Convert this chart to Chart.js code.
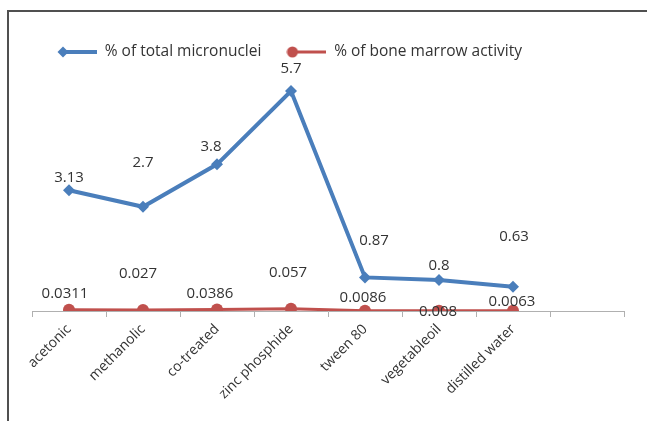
<!DOCTYPE html>
<html>
<head>
<meta charset="utf-8">
<script src="https://cdn.jsdelivr.net/npm/chart.js@4/dist/chart.umd.min.js"></script>
<style>
    html, body { margin: 0; padding: 0; background: #fff; }
    #wrap { position: relative; width: 647px; height: 421px; overflow: hidden; }
    #frame {
        position: absolute; left: 7px; top: 10px; right: -10px; bottom: -10px;
        border-top: 2px solid #505050; border-left: 2px solid #505050;
        pointer-events: none;
    }
</style>
</head>
<body>
<div id="wrap">
    <canvas id="chart" width="647" height="421"></canvas>
    <div id="frame"></div>
</div>
<script>
const categories = ['acetonic', 'methanolic', 'co-treated', 'zinc phosphide', 'tween 80', 'vegetableoil', 'distilled water', ''];
const micronuclei = [3.13, 2.7, 3.8, 5.7, 0.87, 0.8, 0.63];
const marrowActivity = [0.0311, 0.027, 0.0386, 0.057, 0.0086, 0.008, 0.0063];
const seriesNames = ['% of total micronuclei', '% of bone marrow activity'];

const colors = { blue: '#4a7ebb', red: '#c0504d', text: '#333333' };
const font = "'Open Sans', 'Liberation Sans', sans-serif";

// where each value label sits relative to its point (px), as in the original
const labelShift = [
    [[0, -12], [0, -44], [-6, -18], [0, -22], [9, -37], [0, -14], [1, -50]],
    [[-4, -16], [-5, -36], [-7, -16], [-3, -36], [-2, -13], [-1, 1], [-1, -9]]
];

function legendSymbol(color, lineWidth, marker) {
    const c = document.createElement('canvas');
    c.width = 40; c.height = 14;
    const g = c.getContext('2d');
    g.strokeStyle = color;
    g.lineWidth = lineWidth;
    g.beginPath(); g.moveTo(6, 7); g.lineTo(40, 7); g.stroke();
    g.fillStyle = color;
    g.beginPath();
    if (marker === 'diamond') {
        g.moveTo(6, 1.5); g.lineTo(11.5, 7); g.lineTo(6, 12.5); g.lineTo(0.5, 7);
    } else {
        g.arc(6, 7, 5.5, 0, Math.PI * 2);
    }
    g.fill();
    return c;
}
const symbols = [legendSymbol(colors.blue, 4, 'diamond'), legendSymbol(colors.red, 3, 'circle')];

// clip the red series to the plot area so its markers sit half under the axis
const clipSeries = {
    id: 'clipSeries',
    beforeDatasetDraw(chart, args) {
        if (args.index !== 1) return;
        const a = chart.chartArea;
        chart.ctx.save();
        chart.ctx.beginPath();
        chart.ctx.rect(a.left - 10, a.top, a.width + 20, a.height);
        chart.ctx.clip();
    },
    afterDatasetDraw(chart, args) {
        if (args.index === 1) chart.ctx.restore();
    }
};

const valueLabels = {
    id: 'valueLabels',
    afterDatasetsDraw(chart) {
        const ctx = chart.ctx;
        ctx.save();
        ctx.font = `15px ${font}`;
        ctx.fillStyle = colors.text;
        ctx.textAlign = 'center';
        ctx.textBaseline = 'middle';
        chart.data.datasets.forEach((ds, i) => {
            chart.getDatasetMeta(i).data.forEach((pt, j) => {
                const [dx, dy] = labelShift[i][j];
                ctx.fillText(String(ds.data[j]), pt.x + dx, pt.y + dy);
            });
        });
        ctx.restore();
    }
};

new Chart(document.getElementById('chart'), {
    type: 'line',
    data: {
        labels: categories,
        datasets: [{
            label: seriesNames[0],
            data: micronuclei,
            borderColor: colors.blue,
            backgroundColor: colors.blue,
            borderWidth: 4,
            pointStyle: 'rectRot',
            pointRadius: 6,
            pointBorderWidth: 0,
            tension: 0
        }, {
            label: seriesNames[1],
            data: marrowActivity,
            borderColor: colors.red,
            backgroundColor: colors.red,
            borderWidth: 3,
            pointStyle: 'circle',
            pointRadius: 6,
            pointBorderWidth: 0,
            tension: 0
        }]
    },
    options: {
        responsive: false,
        animation: false,
        layout: { padding: { left: 32, right: 23, top: 19.25, bottom: 0 } },
        plugins: {
            legend: {
                position: 'top',
                align: 'start',
                labels: {
                    usePointStyle: true,
                    pointStyleWidth: 40,
                    boxWidth: 40,
                    padding: 25,
                    color: colors.text,
                    font: { family: font, size: 15.5 },
                    generateLabels(chart) {
                        const items = Chart.defaults.plugins.legend.labels.generateLabels(chart);
                        items.forEach((it, i) => { it.pointStyle = symbols[i]; });
                        return items;
                    }
                }
            },
            tooltip: { enabled: false }
        },
        scales: {
            x: {
                offset: true,
                grid: {
                    offset: true,
                    drawOnChartArea: false,
                    drawTicks: true,
                    tickLength: 6,
                    color: '#b0b0b0'
                },
                border: { display: true, color: '#b0b0b0', width: 1 },
                ticks: {
                    minRotation: 45,
                    maxRotation: 45,
                    autoSkip: false,
                    padding: 4,
                    color: colors.text,
                    font: { family: font, size: 14 }
                },
                afterFit(scale) { scale.height = 110; }
            },
            y: {
                display: false,
                min: 0,
                max: 6.25
            }
        }
    },
    plugins: [clipSeries, valueLabels]
});
</script>
</body>
</html>
